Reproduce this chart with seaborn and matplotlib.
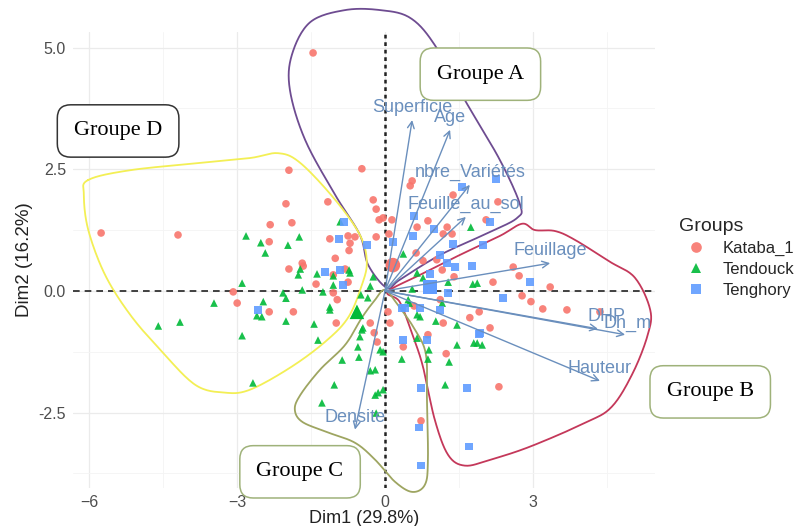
import numpy as np
import pandas as pd
import seaborn as sns
import matplotlib.pyplot as plt

# individuals (Dim1, Dim2)
kataba_dim1 = [-1.46, -1.95, -0.47, -2.01, -1.16, -0.24, -0.18, -0.12, -0.04, -2.33, -1.89, -5.76, -4.20,
               -2.35, -1.12, -0.75, -0.61, -0.71, -0.73, -0.18, -1.01, -1.68, -1.66, -1.95, -1.05, -0.81,
               -0.75, -1.40, -1.05, -3.08, -3.00, -2.35, -1.86, -0.97, -0.99, -0.30, -0.22, 0.06, -0.16,
               0.10, 0.55, 0.51, 1.38, 0.87, 0.65, 1.26, 1.18, 1.36, 0.08, 0.63, 0.77, 1.05, 0.14, 1.16,
               1.40, 2.05, 2.29, 2.60, 2.72, 2.19, 2.78, 2.96, 3.35, 3.20, 3.69, 4.36, 1.91, 1.72, 2.13,
               1.18, 0.87, 1.24, 0.37, 2.31, 0.73, 1.12, 0.59, 0.14]
kataba_dim2 = [4.89, 2.48, 2.51, 1.79, 1.83, 1.87, 1.68, 1.46, 1.50, 1.36, 1.40, 1.19, 1.15,
               1.01, 1.07, 1.13, 1.11, 0.98, 0.83, 1.11, 0.67, 0.57, 0.51, 0.45, 0.33, 0.45,
               0.18, 0.14, -0.04, -0.02, -0.25, -0.43, -0.43, -0.18, -0.66, -0.66, -0.86, -0.43, -1.05,
               -0.66, 2.26, 2.16, 1.97, 1.44, 1.31, 1.31, 1.17, 1.17, 1.17, 0.78, 0.62, 0.64, 0.49, 0.43,
               0.29, 1.46, 1.83, 0.49, 0.31, 0.18, -0.10, -0.22, 0.08, -0.37, -0.39, -0.43, -0.43, -0.55, -0.76,
               -0.66, -0.90, -1.29, -1.15, -1.97, -2.67, -0.18, -0.31, 1.46]

tendouck_dim1 = [-0.91, -2.82, -2.52, -2.43, -1.97, -1.74, -1.72, -1.76, -1.38, -1.05, -0.71, -0.73, -1.05,
                 -1.26, -1.68, -2.07, -2.01, -2.90, -3.47, -2.47, -2.60, -2.50, -2.01, -1.12, -1.12, -1.44,
                 -4.60, -4.16, -2.90, -1.36, -2.68, -1.03, -1.28, -0.87, -0.53, -0.55, -0.47, -0.51, -0.10,
                 -0.20, -0.14, -0.20, -0.18, -0.45, -0.04, -0.30, -0.04, -0.49, -0.35, -0.24, 0.37, 0.65,
                 1.74, 1.28, 1.78, 1.87, 0.55, 0.77, 0.49, 0.47, 0.65, 0.71, 1.16, 1.03, 1.46, 0.65, 0.89,
                 0.87, 0.34, 1.30, 1.87, 1.97, 1.46, 1.22, 1.80, -0.30]
tendouck_dim2 = [1.42, 1.13, 0.99, 0.78, 0.94, 1.11, 0.45, 0.33, 0.35, 0.31, 0.37, 0.43, 0.12,
                 -0.02, 0.02, -0.04, -0.15, 0.16, -0.25, -0.22, -0.51, -0.53, -0.62, -0.33, -0.39, -0.68,
                 -0.72, -0.64, -0.92, -1.01, -1.89, -1.93, -2.30, -1.42, -1.36, -1.15, -0.80, -0.94, -1.21,
                 -1.62, -2.09, -2.14, -2.51, -0.76, -1.25, -1.64, -2.03, -0.08, -0.14, 0.29, 0.76, 0.37,
                 1.31, 0.18, 0.14, 0.16, 0.04, 0.27, -0.25, -0.18, -0.49, -0.53, -0.25, -0.62, -0.70, -0.97, -1.21,
                 -1.40, -1.40, -1.46, -1.07, -1.11, -1.11, -1.93, -1.07, 0.10]

tenghory_dim1 = [-0.83, -0.93, -0.37, -1.22, -0.91, -0.85, -2.58, 1.56, 2.25, 0.59, 0.99, 0.16, 1.38,
                 1.99, 1.12, 1.26, 1.42, 1.76, 0.91, 0.57, 2.13, 2.94, 2.39, 1.91, 0.37, 0.85, 0.73,
                 1.66, 0.69, 1.70, 0.73, 0.34, 1.28, 1.12, 0.71, 0.41, 1.93]
tenghory_dim2 = [1.42, 1.07, 0.94, 0.39, 0.43, 0.12, -0.39, 2.14, 2.30, 1.54, 1.27, 1.01, 0.97,
                 0.94, 0.74, 0.57, 0.49, 0.51, 0.35, 1.13, 1.42, 0.18, -0.15, -0.88, -1.01, -1.01, -1.99,
                 -1.99, -2.81, -3.20, -3.59, -0.35, -0.04, -0.39, -0.35, -0.35, -0.86]

groups = ["Kataba_1", "Tendouck", "Tenghory"]
mean_dim1 = [0.16, -0.57, 0.91]
mean_dim2 = [0.53, -0.43, 0.08]

# variable loadings (arrow tips)
var_names = ["Superficie", "Age", "nbre_Variétés", "Feuille_au_sol", "Feuillage",
             "DHP", "Dh_m", "Hauteur", "Densite"]
var_dim1 = [0.55, 1.32, 1.72, 1.64, 3.35, 4.32, 4.87, 4.36, -0.61]
var_dim2 = [3.51, 3.31, 2.18, 1.52, 0.57, -0.78, -0.90, -1.85, -2.85]

# hand-drawn group outlines
hull_a_x = [0.04, -0.34, -0.51, -1.01, -1.62, -1.93, -1.89, -1.52, -0.81, -0.10, 0.51, 1.01, 1.62,
            2.33, 2.74, 2.68, 2.13, 1.12, 0.30]
hull_a_y = [0.06, 0.53, 1.15, 1.97, 3.10, 4.13, 4.85, 5.52, 5.77, 5.77, 5.61, 5.05, 3.92,
            2.69, 1.77, 1.50, 1.21, 0.74, 0.23]
hull_b_x = [0.06, 0.71, 1.52, 2.33, 2.78, 3.04, 3.45, 3.85, 4.56, 5.07, 5.38, 5.33, 5.03, 4.60,
            4.06, 2.94, 2.13, 1.62, 1.28, 1.01, 0.77, 0.57, 0.30]
hull_b_y = [-0.02, 0.33, 0.74, 1.13, 1.38, 1.25, 1.23, 1.05, 0.60, 0.27, -0.39, -0.90, -1.68, -2.38,
            -2.71, -3.20, -3.47, -3.59, -3.37, -2.65, -1.56, -0.94, -0.23]
hull_c_x = [0.0, -0.20, -0.47, -0.81, -1.32, -1.72, -1.83, -1.68, -1.18, -0.61, -0.20, 0.20, 0.55,
            0.81, 0.87, 0.85, 0.83, 0.61, 0.26]
hull_c_y = [0.02, -0.18, -0.55, -1.11, -1.62, -2.14, -2.44, -2.69, -2.90, -3.12, -3.47, -3.92, -4.13,
            -3.98, -3.47, -2.24, -1.31, -0.80, -0.29]
hull_d_x = [-6.02, -5.17, -3.75, -2.74, -2.17, -1.72, -1.01, -0.51, -0.37, -0.47, -0.75, -1.22, -1.93,
            -2.74, -3.25, -3.85, -4.56, -5.17, -5.68, -6.02, -6.11]
hull_d_y = [2.28, 2.48, 2.63, 2.73, 2.83, 2.63, 1.87, 1.15, 0.60, 0.12, -0.55, -1.05, -1.58,
            -2.03, -2.09, -1.93, -1.21, -0.49, 0.33, 1.25, 1.97]


def smooth_closed(xs, ys, n=16):
    # closed Catmull-Rom curve through the outline points
    p = np.column_stack([xs, ys])
    m = len(p)
    t = np.linspace(0, 1, n, endpoint=False)[:, None]
    segs = []
    for i in range(m):
        p0, p1, p2, p3 = p[i - 1], p[i], p[(i + 1) % m], p[(i + 2) % m]
        segs.append(0.5 * (2 * p1 + (p2 - p0) * t + (2 * p0 - 5 * p1 + 4 * p2 - p3) * t ** 2
                           + (3 * p1 - p0 - 3 * p2 + p3) * t ** 3))
    segs.append(p[:1])
    out = np.vstack(segs)
    return out[:, 0], out[:, 1]


df = pd.DataFrame({
    "Dim1": kataba_dim1 + tendouck_dim1 + tenghory_dim1,
    "Dim2": kataba_dim2 + tendouck_dim2 + tenghory_dim2,
    "Groups": ["Kataba_1"] * len(kataba_dim1) + ["Tendouck"] * len(tendouck_dim1)
              + ["Tenghory"] * len(tenghory_dim1),
})
means = pd.DataFrame({"Dim1": mean_dim1, "Dim2": mean_dim2, "Groups": groups})

sns.set_style("whitegrid")
plt.rcParams["font.family"] = ["Liberation Sans", "DejaVu Sans"]

palette = {"Kataba_1": "#F8766D", "Tendouck": "#00BA38", "Tenghory": "#619CFF"}
markers = {"Kataba_1": "o", "Tendouck": "^", "Tenghory": "s"}

fig = plt.figure(figsize=(7.98, 5.26), dpi=100)
ax = fig.add_axes([0.0915, 0.0722, 0.7295, 0.867])

ax.axhline(0, color="#222222", lw=1.2, ls=(0, (4, 3)), zorder=1)
ax.axvline(0, color="#222222", lw=1.8, ls=(0, (1.5, 1.5)), zorder=1)

sns.scatterplot(data=df, x="Dim1", y="Dim2", hue="Groups", style="Groups",
                palette=palette, markers=markers, s=30, linewidth=0, alpha=0.9, ax=ax, zorder=3)
sns.scatterplot(data=means, x="Dim1", y="Dim2", hue="Groups", style="Groups",
                palette=palette, markers=markers, s=110, linewidth=0, legend=False, ax=ax, zorder=3)

arrow_col = "#6a8fbd"
label_offsets = {"DHP": (6, 9), "Dh_m": (2, 8)}
for name, vx, vy in zip(var_names, var_dim1, var_dim2):
    ax.annotate("", xy=(vx, vy), xytext=(0, 0),
                arrowprops=dict(arrowstyle="->", color=arrow_col, lw=1.0, shrinkA=0, shrinkB=0,
                                mutation_scale=12), zorder=4)
    dx, dy = label_offsets.get(name, (0, 9))
    ax.annotate(name, xy=(vx, vy), xytext=(dx, dy), textcoords="offset points",
                ha="center", va="center", color=arrow_col, fontsize=13, zorder=5)

hull_cols = {"A": "#6e4c91", "B": "#c4385a", "C": "#9ea561", "D": "#f3ef55"}
for key, hx, hy in [("A", hull_a_x, hull_a_y), ("B", hull_b_x, hull_b_y),
                    ("C", hull_c_x, hull_c_y), ("D", hull_d_x, hull_d_y)]:
    sx, sy = smooth_closed(hx, hy)
    ax.plot(sx, sy, color=hull_cols[key], lw=1.3, clip_on=False, zorder=2)

ax.set_xlim(-6.33, 5.48)
ax.set_ylim(-4.05, 5.32)
ax.set_xticks([-6, -3, 0, 3])
ax.set_yticks([-2.5, 0.0, 2.5, 5.0])
ax.set_yticklabels(["-2.5", "0.0", "2.5", "5.0"])
ax.set_xticks([-4.5, -1.5, 1.5, 4.5], minor=True)
ax.set_yticks([-3.75, -1.25, 1.25, 3.75], minor=True)
ax.grid(which="major", color="#ebebeb", lw=0.9)
ax.grid(which="minor", color="#f4f4f4", lw=0.6)
ax.tick_params(which="major", length=3, width=0.8, color="#333333", labelsize=11.5,
               labelcolor="#4d4d4d", pad=2)
ax.tick_params(which="minor", length=0)
sns.despine(ax=ax, left=True, bottom=True)
ax.set_xlabel("Dim1 (29.8%)", fontsize=13, color="#222222", labelpad=0)
ax.set_ylabel("Dim2 (16.2%)", fontsize=13.5, color="#222222", labelpad=4)

sns.move_legend(ax, "upper left", bbox_to_anchor=(1.015, 0.625), frameon=False,
                title="Groups", fontsize=12, title_fontsize=14, markerscale=1.4,
                handletextpad=0.6, labelspacing=0.35, alignment="left")

box_specs = [("Groupe A", 0.602, 0.859, "#9fb27a"), ("Groupe D", 0.148, 0.751, "#333333"),
             ("Groupe B", 0.890, 0.255, "#9fb27a"), ("Groupe C", 0.376, 0.103, "#9fb27a")]
for txt, fx, fy, ec in box_specs:
    fig.text(fx, fy, txt, ha="center", va="center", fontsize=16, family="Liberation Serif",
             color="black", zorder=10,
             bbox=dict(boxstyle="round,pad=0.75,rounding_size=0.6", fc="white", ec=ec, lw=1.1))

fig.savefig("out.png", dpi=100)
